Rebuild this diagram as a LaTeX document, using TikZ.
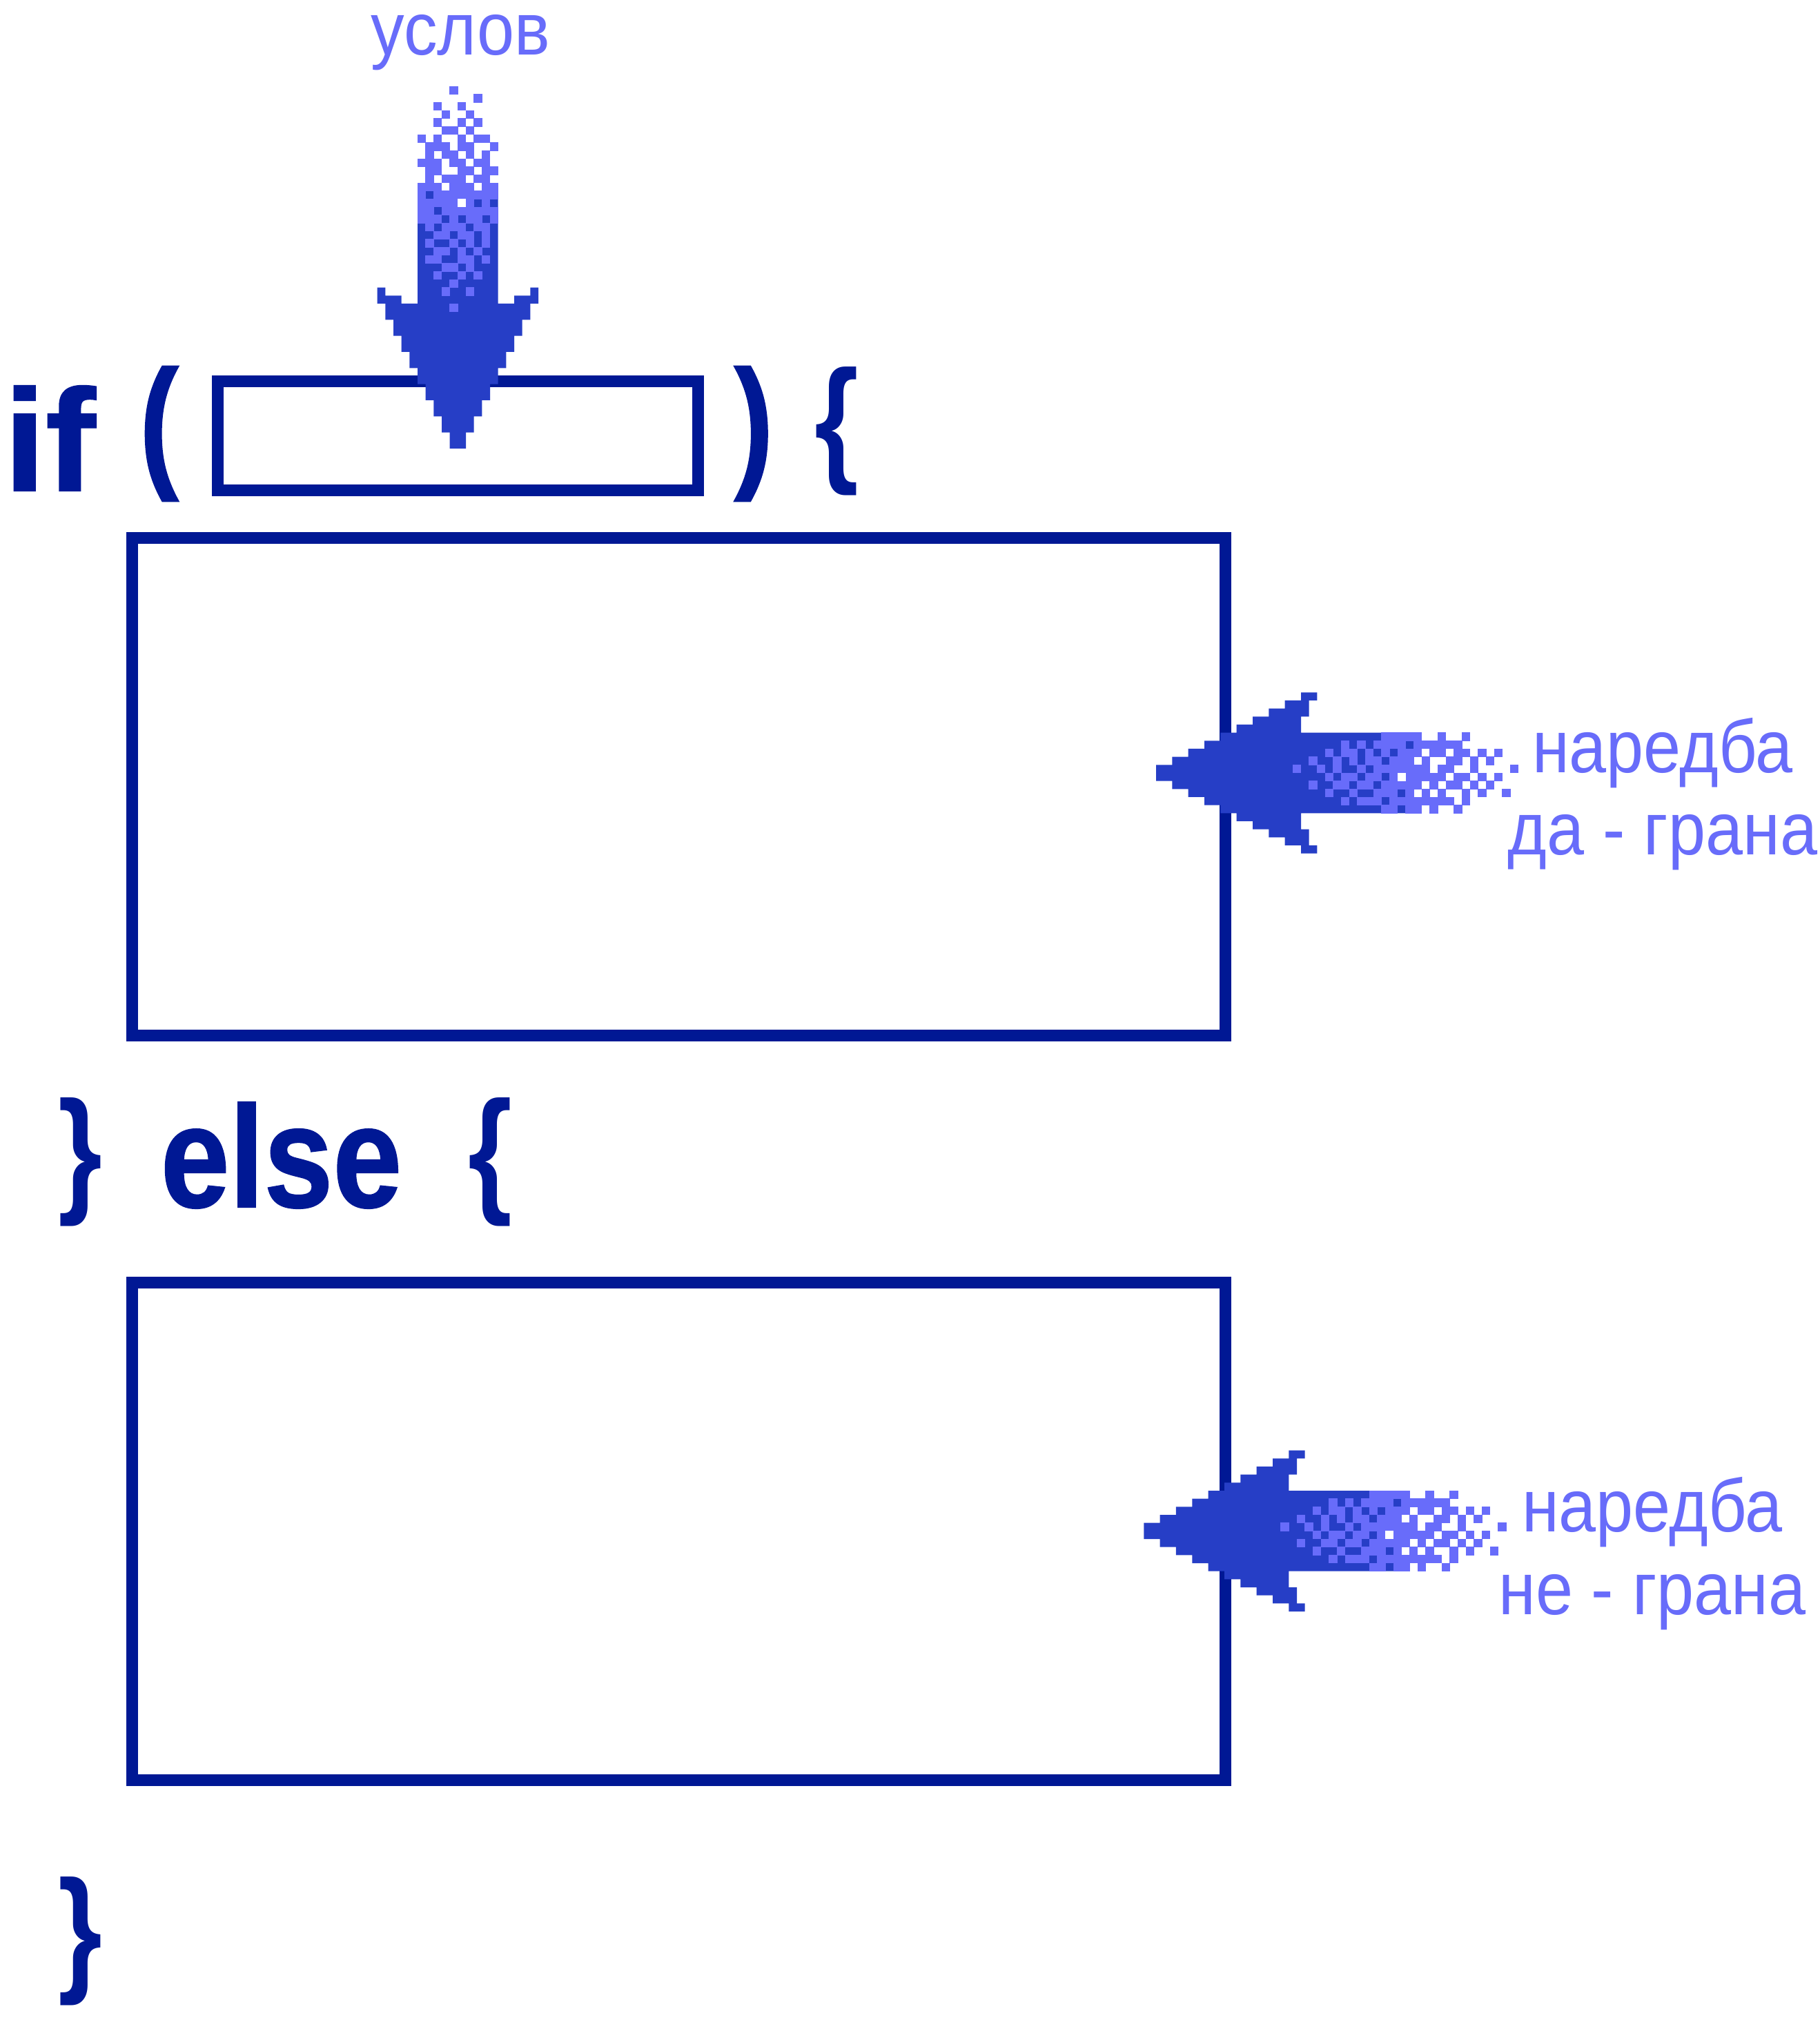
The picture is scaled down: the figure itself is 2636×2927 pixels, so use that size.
\documentclass[tikz,border=0pt]{standalone}
\usepackage{fontspec}
\setmainfont{Liberation Sans}
\newfontfamily\lblfont{Liberation Sans}[FakeStretch=0.9]
\newfontfamily\kwfont{Liberation Sans}[UprightFont={* Bold}, FakeBold=1, FakeStretch=0.9]
\newfontfamily\brfont{Liberation Sans}[UprightFont={* Bold}, FakeStretch=0.82]
\definecolor{navy}{RGB}{0,24,148}
\definecolor{mb}{RGB}{38,62,198}
\definecolor{lp}{RGB}{104,108,250}
\newcommand\pixarrow{%
  \fill[mb] (5,13) -- (5,27) -- (3,27) -- (3,26) -- (1,26) -- (1,25) -- (0,25) -- (0,27) -- (1,27) -- (1,29) -- (2,29) -- (2,31) -- (3,31) -- (3,33) -- (4,33) -- (4,35) -- (5,35) -- (5,37) -- (6,37) -- (6,39) -- (7,39) -- (7,41) -- (8,41) -- (8,43) -- (9,43) -- (9,45) -- (11,45) -- (11,43) -- (12,43) -- (12,41) -- (13,41) -- (13,39) -- (14,39) -- (14,37) -- (15,37) -- (15,35) -- (16,35) -- (16,33) -- (17,33) -- (17,31) -- (18,31) -- (18,29) -- (19,29) -- (19,27) -- (20,27) -- (20,25) -- (19,25) -- (19,26) -- (17,26) -- (17,27) -- (15,27) -- (15,13) -- cycle;
  \foreach \c/\r in {9/0, 12/1, 7/2, 10/2, 8/3, 11/3, 7/4, 10/4, 12/4, 8/5, 9/5, 11/5,
    5/6, 7/6, 10/6, 12/6, 13/6, 6/7, 7/7, 8/7, 10/7, 11/7, 14/7,
    6/8, 8/8, 9/8, 11/8, 13/8, 5/9, 6/9, 7/9, 9/9, 10/9, 12/9, 13/9,
    6/10, 7/10, 10/10, 11/10, 13/10, 14/10, 6/11, 8/11, 9/11, 10/11, 12/11, 13/11,
    5/12, 6/12, 7/12, 9/12, 10/12, 11/12, 13/12, 14/12,
    5/13, 7/13, 8/13, 9/13, 10/13, 11/13, 12/13, 13/13, 14/13,
    5/14, 6/14, 7/14, 8/14, 9/14, 11/14, 13/14,
    5/15, 6/15, 8/15, 9/15, 10/15, 11/15, 12/15, 13/15, 14/15,
    5/16, 6/16, 7/16, 9/16, 11/16, 12/16, 14/16,
    6/17, 8/17, 9/17, 10/17, 12/17, 13/17, 7/18, 8/18, 10/18, 11/18, 13/18,
    6/19, 9/19, 11/19, 13/19, 7/20, 8/20, 10/20, 12/20,
    6/21, 7/21, 10/21, 11/21, 13/21, 8/22, 9/22, 11/22, 7/23, 10/23, 12/23,
    9/24, 8/25, 11/25, 9/27}
    \fill[lp] (\c-0.02,\r-0.02) rectangle ++(1.04,1.04);
  \fill[white] (10,14) rectangle ++(1,1);
}
\begin{document}
\begin{tikzpicture}[x=0.1pt,y=-0.1pt,
  box/.style={draw=navy, line width=1.7pt, inner sep=0pt, outer sep=0pt},
  kw/.style={text=navy, inner sep=0pt, outer sep=0pt, font={\kwfont\fontsize{21}{25}\selectfont}},
  par/.style={text=navy, inner sep=0pt, outer sep=0pt, font={\kwfont\fontsize{21}{25}\selectfont}},
  brc/.style={text=navy, inner sep=0pt, outer sep=0pt, font={\brfont\fontsize{20}{24}\selectfont}},
  lbl/.style={text=lp, inner sep=0pt, outer sep=0pt, anchor=base, font={\lblfont\fontsize{10.8}{13}\selectfont}}]
\useasboundingbox (0,0) rectangle (2636,2927);
\fill[white] (0,0) rectangle (2636,2927);
% boxes
\node[box, minimum width=69.6pt, minimum height=15.8pt] (cond) at (663.5,631.5) {};
\node[box, minimum width=158.45pt, minimum height=72.1pt] (yesbox) at (983.25,1139.8) {};
\node[box, minimum width=158.45pt, minimum height=72.07pt] (nobox) at (983.25,2218.65) {};
% keywords
\node[kw, anchor=base] (kif) at (72,711) {\scalebox{1.15}[1]{if}};
\node[par] (lpar) at (230.5,628.5) {\scalebox{0.9}[1]{(}};
\node[par] (rpar) at (1092,628.5) {\scalebox{0.9}[1]{)}};
\node[brc] (lbr1) at (1212,624.5) {\{};
\node[brc] (rbr1) at (116,1684) {\}};
\node[kw, anchor=base] (kelse) at (407.5,1749) {\scalebox{0.95}[1]{else}};
\node[brc] (lbr2) at (710.5,1684) {\{};
\node[brc] (rbr2) at (116.5,2812.5) {\}};
% pixel arrows
\begin{scope}[shift={(546.67,125)}, scale=11.667]
  \pixarrow
\end{scope}
\begin{scope}[shift={(2200,1003.3)}, rotate=-90, scale=11.667]
  \pixarrow
\end{scope}
\begin{scope}[shift={(2182.3,2101.7)}, rotate=-90, scale=11.667]
  \pixarrow
\end{scope}
% labels
\node[lbl] (lcond) at (667.5,80) {услов};
\node[lbl] (lyes1) at (2409,1120) {наредба};
\node[lbl] (lyes2) at (2409,1239) {да - грана};
\node[lbl] (lno1) at (2394,2219.3) {наредба};
\node[lbl] (lno2) at (2394,2339) {не - грана};
\end{tikzpicture}
\end{document}
